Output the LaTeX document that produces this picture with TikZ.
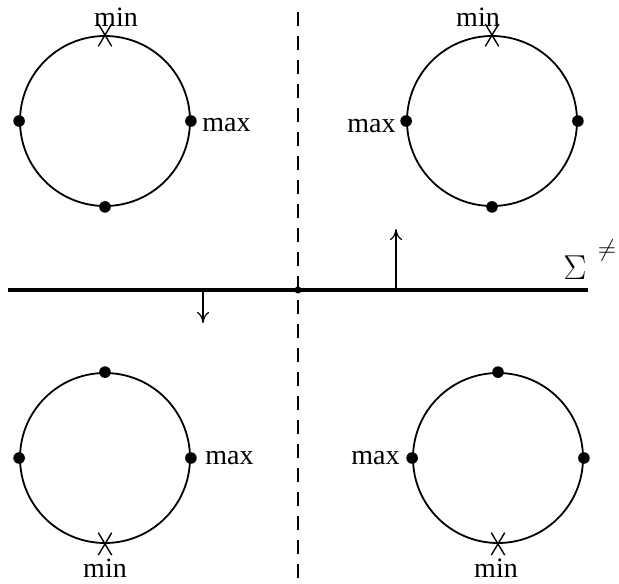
\documentclass[tikz,border=0pt]{standalone}
\usepackage{fontspec}
\setmainfont{Liberation Serif}
\usetikzlibrary{shapes.misc,arrows.meta}
\begin{document}
\begin{tikzpicture}[x=0.5pt,y=-0.5pt,
  ring/.style={circle,draw,line width=0.9pt,minimum size=85pt,inner sep=0pt},
  dot/.style={circle,fill,inner sep=0pt,minimum size=5.8pt},
  lbl/.style={font=\fontsize{14}{16}\selectfont,inner sep=1pt},
  xmark/.style={cross out,draw,line width=0.7pt,minimum width=6pt,minimum height=10.5pt,inner sep=0pt},
  arr/.style={line width=0.6pt,-{To[length=5.5pt,width=6pt]}}]
\useasboundingbox (0,0) rectangle (619,583);
% axes
\coordinate (L) at (8,290);
\coordinate (R) at (588,290);
\coordinate (T) at (298,12);
\coordinate (B) at (298,580);
\draw[line width=1.2pt,dash pattern=on 7pt off 5pt] (T) -- (B);
\draw[line width=2pt] (L) -- (R);
\node[circle,fill,inner sep=0pt,minimum size=3.5pt] (O) at (298,290) {};
% arrows
\coordinate (u0) at (396,290);
\coordinate (u1) at (396,229);
\coordinate (d0) at (203,290);
\coordinate (d1) at (203,323);
\draw[arr] (u0) -- (u1);
\draw[arr] (d0) -- (d1);
\node[font=\fontsize{19}{21}\selectfont,inner sep=0pt] (sig) at (575,268) {$\Sigma$};
\node[font=\fontsize{12}{14}\selectfont,inner sep=0pt] (ne) at (607,250) {$\neq$};
% circles
\node[ring] (c1) at (105,121) {};
\node[ring] (c2) at (492,121) {};
\node[ring] (c3) at (105,458) {};
\node[ring] (c4) at (498,458) {};
% top-left
\node[xmark] at (c1.north) {};
\node[dot] at (c1.west) {};
\node[dot] at (c1.east) {};
\node[dot] at (c1.south) {};
\node[lbl] (min1) at (116,17) {min};
\node[lbl,anchor=west] (max1) at (200,125) {max};
% top-right
\node[xmark] at (c2.north) {};
\node[dot] at (c2.west) {};
\node[dot] at (c2.east) {};
\node[dot] at (c2.south) {};
\node[lbl] (min2) at (478,17) {min};
\node[lbl,anchor=east] (max2) at (398,126) {max};
% bottom-left
\node[xmark] at (c3.south) {};
\node[dot] at (c3.west) {};
\node[dot] at (c3.east) {};
\node[dot] at (c3.north) {};
\node[lbl] (min3) at (105,568) {min};
\node[lbl,anchor=west] (max3) at (203,458) {max};
% bottom-right
\node[xmark] at (c4.south) {};
\node[dot] at (c4.west) {};
\node[dot] at (c4.east) {};
\node[dot] at (c4.north) {};
\node[lbl] (min4) at (496,568) {min};
\node[lbl,anchor=east] (max4) at (402,458) {max};
\end{tikzpicture}
\end{document}
